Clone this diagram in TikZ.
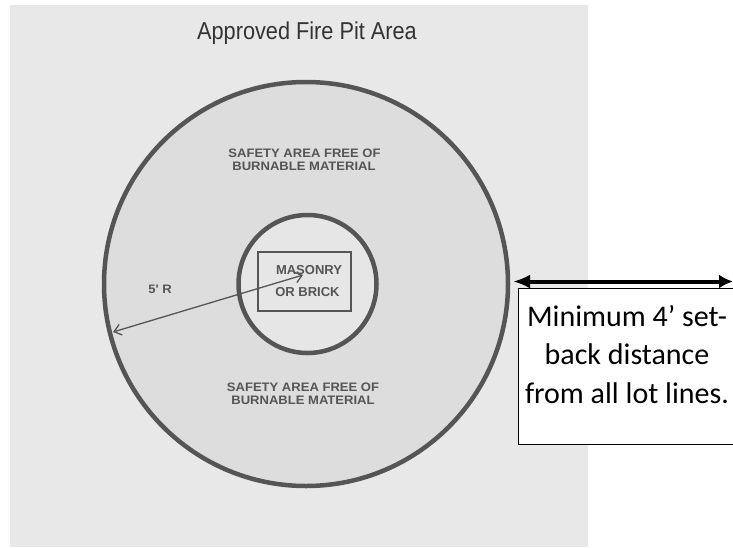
\documentclass[tikz,border=0pt]{standalone}
\usepackage{fontspec}
\setmainfont{Liberation Sans}
\newfontfamily\carl{Carlito}
\newfontfamily\widesans[FakeStretch=1.06]{Liberation Sans}
\newfontfamily\narrowsans[FakeStretch=0.89]{Liberation Sans}
\usetikzlibrary{arrows.meta}
\definecolor{pagegrey}{HTML}{E8E8E8}
\definecolor{ringgrey}{HTML}{DDDDDD}
\definecolor{innergrey}{HTML}{E6E6E6}
\definecolor{inkgrey}{HTML}{555555}
\definecolor{textgrey}{HTML}{555555}
\tikzset{
  ring/.style={circle, draw=inkgrey, line width=4.5pt, inner sep=0pt},
  safety/.style={font=\widesans\bfseries\fontsize{12.3}{13}\selectfont, text=textgrey, inner sep=0pt, anchor=base},
  pitlbl/.style={font=\bfseries\fontsize{13}{14}\selectfont, text=textgrey, inner sep=0pt, anchor=base},
  radarrow/.style={draw=inkgrey, line width=1.3pt, {Straight Barb[length=7pt,width=11pt]}-{Straight Barb[length=7pt,width=11pt]}},
  setback/.style={draw=black, line width=4pt, {Latex[length=17pt,width=14pt]}-{Latex[length=14pt,width=14pt]}},
  notebox/.style={draw=black, line width=1pt, fill=white, inner sep=0pt}
}
\begin{document}
\begin{tikzpicture}[x=1pt,y=-1pt]
\useasboundingbox (0,0) rectangle (733,547);
\clip (0,0) rectangle (733,547);
\fill[white] (0,0) rectangle (733,547);
\fill[pagegrey] (10,5) rectangle (588,547);
% title
\node[font=\narrowsans\fontsize{24.4}{29}\selectfont, text=black!80, inner sep=0pt, anchor=base] (title) at (307,39.5) {Approved Fire Pit Area};
% circles
\node[ring, fill=ringgrey, minimum size=404pt] (outer) at (306,284) {};
\node[ring, fill=innergrey, minimum size=138pt] (inner) at (307.5,284) {};
% fire pit box
\node[draw=inkgrey, line width=1.4pt, minimum width=93pt, minimum height=59pt, inner sep=0pt] (pit) at (304.5,281.5) {};
\node[pitlbl] (m1) at (309,274) {MASONRY};
\node[pitlbl] (m2) at (307.5,296.7) {OR BRICK};
% safety texts
\node[safety] (s1) at (304.5,157.3) {SAFETY AREA FREE OF};
\node[safety] (s2) at (304,170) {BURNABLE MATERIAL};
\node[safety] (s3) at (303,391.5) {SAFETY AREA FREE OF};
\node[safety] (s4) at (303,404.5) {BURNABLE MATERIAL};
% radius
\node[safety] (rlbl) at (160,293) {5' R};
\coordinate (rc) at (303,275);
\coordinate (re) at (113,332);
\draw[radarrow] (re) -- (rc);
% setback note
\node[notebox, minimum width=222pt, minimum height=156pt, anchor=north west] (box) at (518,288) {};
\coordinate (sa) at (513,281.5);
\coordinate (sb) at (733,281.5);
\draw[setback] (sa) -- (sb);
\node[font=\carl\fontsize{30}{38.5}\selectfont, align=center, inner sep=0pt, anchor=north] (note) at (627,304.7) {Minimum 4’ set-\\back distance\\from all lot lines.};
\end{tikzpicture}
\end{document}
